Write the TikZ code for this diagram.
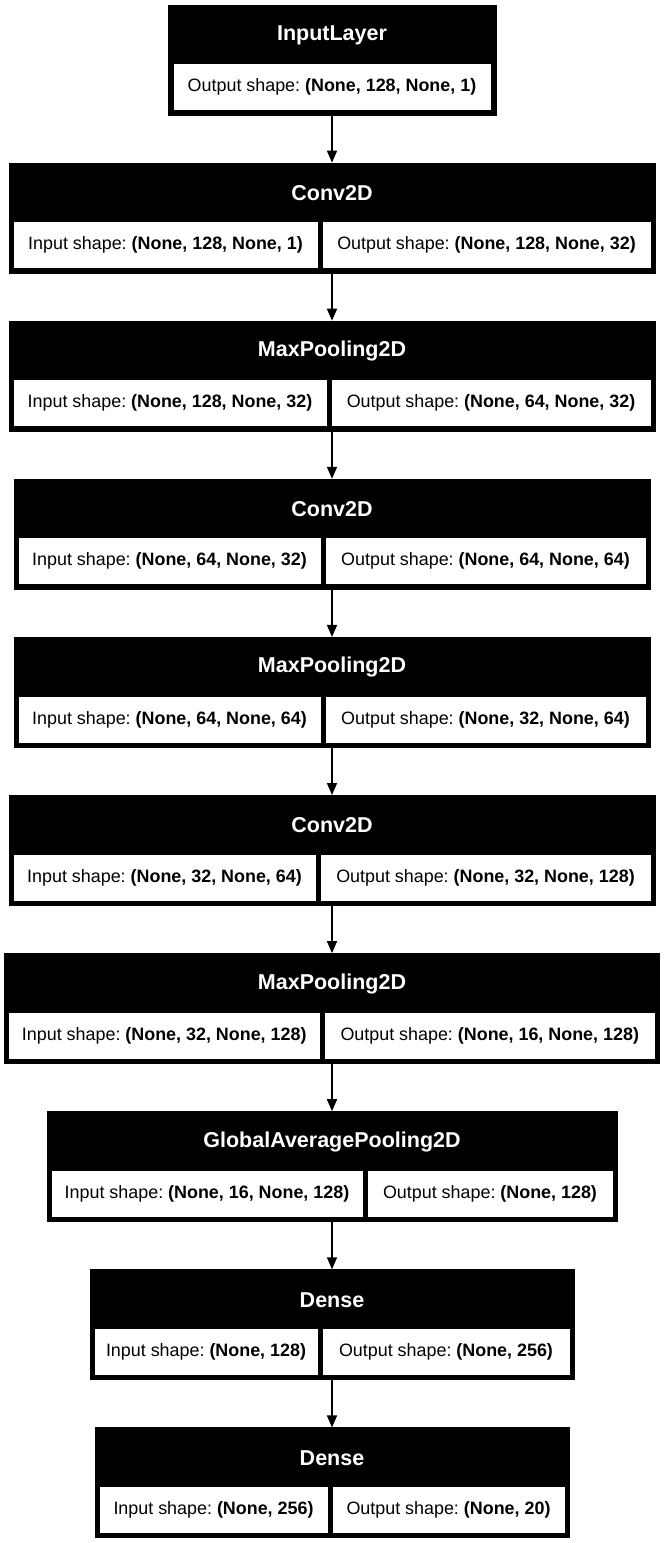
\documentclass[tikz,border=0pt]{standalone}
\usepackage{fontspec}
\setmainfont{Liberation Sans}
\usepackage{tikz}
\usetikzlibrary{arrows.meta}
\frenchspacing

\tikzset{
  layerbox/.style={fill=black, draw=black, line width=1pt, inner sep=0pt, minimum height=110pt},
  layertitle/.style={text=white, inner sep=0pt, font=\bfseries\fontsize{21.5}{25}\selectfont},
  cellbox/.style={fill=white, draw=black, line width=0.8pt, inner sep=0pt, minimum height=47pt, font=\fontsize{17.9}{21}\selectfont},
  flow/.style={-{Triangle[length=12pt,width=10pt]}, line width=1.6pt}
}

\begin{document}
\begin{tikzpicture}[x=1pt,y=-1pt]
\useasboundingbox (0,0) rectangle (664,1543);

% input layer
\node[layerbox, minimum width=328pt] (L1) at (332,60) {};
\node[layertitle] (T1) at (332,35) {InputLayer};
\node[cellbox, minimum width=318pt] (O1) at (332,87) {Output shape: \textbf{(None, 128, None, 1)}};

% the other layers: index/width/split/title/input/output
\foreach \i/\w/\s/\t/\inp/\outp in {
  2/646/320/Conv2D/{None, 128, None, 1}/{None, 128, None, 32},
  3/646/329/MaxPooling2D/{None, 128, None, 32}/{None, 64, None, 32},
  4/636/323/Conv2D/{None, 64, None, 32}/{None, 64, None, 64},
  5/636/323/MaxPooling2D/{None, 64, None, 64}/{None, 32, None, 64},
  6/646/318/Conv2D/{None, 32, None, 64}/{None, 32, None, 128},
  7/655/322/MaxPooling2D/{None, 32, None, 128}/{None, 16, None, 128},
  8/570/365/GlobalAveragePooling2D/{None, 16, None, 128}/{None, 128},
  9/484/320/Dense/{None, 128}/{None, 256},
  10/474/330/Dense/{None, 256}/{None, 20}}
{
  \pgfmathsetmacro\top{5+158.1*(\i-1)}
  \pgfmathsetmacro\lx{332-\w/2+4}
  \pgfmathsetmacro\rx{332+\w/2-4}
  \pgfmathsetmacro\wl{\s-2-\lx}
  \pgfmathsetmacro\wr{\rx-\s-2}
  \node[layerbox, minimum width=\w pt] (L\i) at (332,\top+55) {};
  \node[layertitle] (T\i) at (332,\top+30) {\t};
  \node[cellbox, minimum width=\wl pt] (I\i) at (\lx+\wl/2,\top+82) {Input shape: \textbf{(\inp)}};
  \node[cellbox, minimum width=\wr pt] (O\i) at (\s+2+\wr/2,\top+82) {Output shape: \textbf{(\outp)}};
}

\foreach \i [evaluate=\i as \j using int(\i+1)] in {1,...,9}
  \draw[flow] (L\i.south) -- (L\j.north);
\end{tikzpicture}
\end{document}
